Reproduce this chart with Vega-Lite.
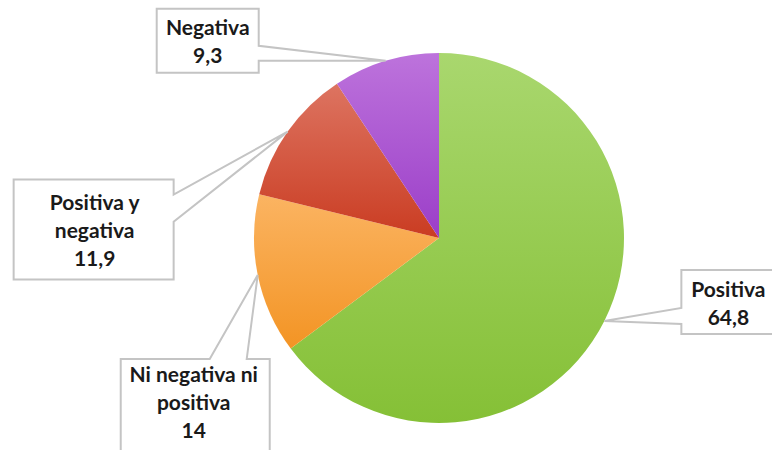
{
  "$schema": "https://vega.github.io/schema/vega-lite/v6.json",
  "width": 772,
  "height": 450,
  "autosize": {"type": "none"},
  "padding": 0,
  "background": "white",
  "config": {"view": {"stroke": null}},
  "data": {
    "values": [
      {"categoria": "Positiva", "valor": 64.8, "orden": 1},
      {"categoria": "Ni negativa ni positiva", "valor": 14, "orden": 2},
      {"categoria": "Positiva y negativa", "valor": 11.9, "orden": 3},
      {"categoria": "Negativa", "valor": 9.3, "orden": 4}
    ]
  },
  "layer": [
    {
      "mark": {"type": "arc", "radius": 185},
      "encoding": {
        "x": {"datum": 0, "type": "quantitative", "scale": {"domain": [-439, 333], "nice": false, "zero": false}, "axis": null},
        "y": {"datum": 0, "type": "quantitative", "scale": {"domain": [-212, 238], "nice": false, "zero": false}, "axis": null},
        "theta": {"field": "valor", "type": "quantitative", "stack": true},
        "order": {"field": "orden", "type": "quantitative"},
        "fill": {
          "condition": [
            {"test": "datum.categoria === 'Positiva'", "value": {"gradient": "linear", "x1": 0, "y1": 0, "x2": 0, "y2": 1, "stops": [{"offset": 0, "color": "#a9d76e"}, {"offset": 1, "color": "#85c036"}]}},
            {"test": "datum.categoria === 'Ni negativa ni positiva'", "value": {"gradient": "linear", "x1": 0, "y1": 0, "x2": 0, "y2": 1, "stops": [{"offset": 0, "color": "#fbb462"}, {"offset": 1, "color": "#f39424"}]}},
            {"test": "datum.categoria === 'Positiva y negativa'", "value": {"gradient": "linear", "x1": 0, "y1": 0, "x2": 0, "y2": 1, "stops": [{"offset": 0, "color": "#dd7461"}, {"offset": 1, "color": "#ca3c22"}]}}
          ],
          "value": {"gradient": "linear", "x1": 0, "y1": 0, "x2": 0, "y2": 1, "stops": [{"offset": 0, "color": "#bd73dc"}, {"offset": 1, "color": "#9b3ec8"}]}
        }
      }
    },
    {
      "transform": [
        {"joinaggregate": [{"op": "sum", "field": "valor", "as": "total"}]},
        {"window": [{"op": "sum", "field": "valor", "as": "acum"}], "sort": [{"field": "orden"}], "frame": [null, 0]},
        {"calculate": "2*PI*(datum.acum - datum.valor/2)/datum.total", "as": "ang"},
        {"calculate": "185*sin(datum.ang)", "as": "px"},
        {"calculate": "185*cos(datum.ang)", "as": "py"},
        {"calculate": "replace(format(datum.valor, '~g'), '.', ',')", "as": "vtxt"}
      ],
      "encoding": {
        "x": {"field": "px", "type": "quantitative", "scale": {"domain": [-439, 333], "nice": false, "zero": false}, "axis": null},
        "y": {"field": "py", "type": "quantitative", "scale": {"domain": [-212, 238], "nice": false, "zero": false}, "axis": null}
      },
      "layer": [
        {
          "transform": [{"filter": "datum.categoria === 'Negativa'"}, {"calculate": "'Negativa|' + datum.vtxt", "as": "lbl"}],
          "layer": [
            {"mark": {"type": "point", "shape": "M-229,-52H-127V-15L0,0L-127,0V12H-229Z", "size": 4, "filled": true, "fill": "white", "stroke": "#c4c4c4", "strokeWidth": 2, "opacity": 1}},
            {"mark": {"type": "text", "lineBreak": "|", "font": "Lato", "fontWeight": "bold", "fontSize": 21, "lineHeight": 28, "align": "center", "baseline": "middle", "color": "#1a1a1a", "dx": -178, "dy": -32}, "encoding": {"text": {"field": "lbl"}}}
          ]
        },
        {
          "transform": [{"filter": "datum.categoria === 'Positiva y negativa'"}, {"calculate": "'Positiva y|negativa|' + datum.vtxt", "as": "lbl"}],
          "layer": [
            {"mark": {"type": "point", "shape": "M-274,48H-114V63L0,0L-114,90V148H-274Z", "size": 4, "filled": true, "fill": "white", "stroke": "#c4c4c4", "strokeWidth": 2, "opacity": 1}},
            {"mark": {"type": "text", "lineBreak": "|", "font": "Lato", "fontWeight": "bold", "fontSize": 21, "lineHeight": 28, "align": "center", "baseline": "middle", "color": "#1a1a1a", "dx": -193, "dy": 72}, "encoding": {"text": {"field": "lbl"}}}
          ]
        },
        {
          "transform": [{"filter": "datum.categoria === 'Ni negativa ni positiva'"}, {"calculate": "'Ni negativa ni|positiva|' + datum.vtxt", "as": "lbl"}],
          "layer": [
            {"mark": {"type": "point", "shape": "M-137,84H-48L0,0L-11,84H12V200H-137Z", "size": 4, "filled": true, "fill": "white", "stroke": "#c4c4c4", "strokeWidth": 2, "opacity": 1}},
            {"mark": {"type": "text", "lineBreak": "|", "font": "Lato", "fontWeight": "bold", "fontSize": 21, "lineHeight": 28, "align": "center", "baseline": "middle", "color": "#1a1a1a", "dx": -64, "dy": 101}, "encoding": {"text": {"field": "lbl"}}}
          ]
        },
        {
          "transform": [{"filter": "datum.categoria === 'Positiva'"}, {"calculate": "'Positiva|' + datum.vtxt", "as": "lbl"}],
          "layer": [
            {"mark": {"type": "point", "shape": "M77,-51H195V13H77V3L0,0L77,-13Z", "size": 4, "filled": true, "fill": "white", "stroke": "#c4c4c4", "strokeWidth": 2, "opacity": 1}},
            {"mark": {"type": "text", "lineBreak": "|", "font": "Lato", "fontWeight": "bold", "fontSize": 21, "lineHeight": 28, "align": "center", "baseline": "middle", "color": "#1a1a1a", "dx": 124, "dy": -30}, "encoding": {"text": {"field": "lbl"}}}
          ]
        }
      ]
    }
  ]
}
